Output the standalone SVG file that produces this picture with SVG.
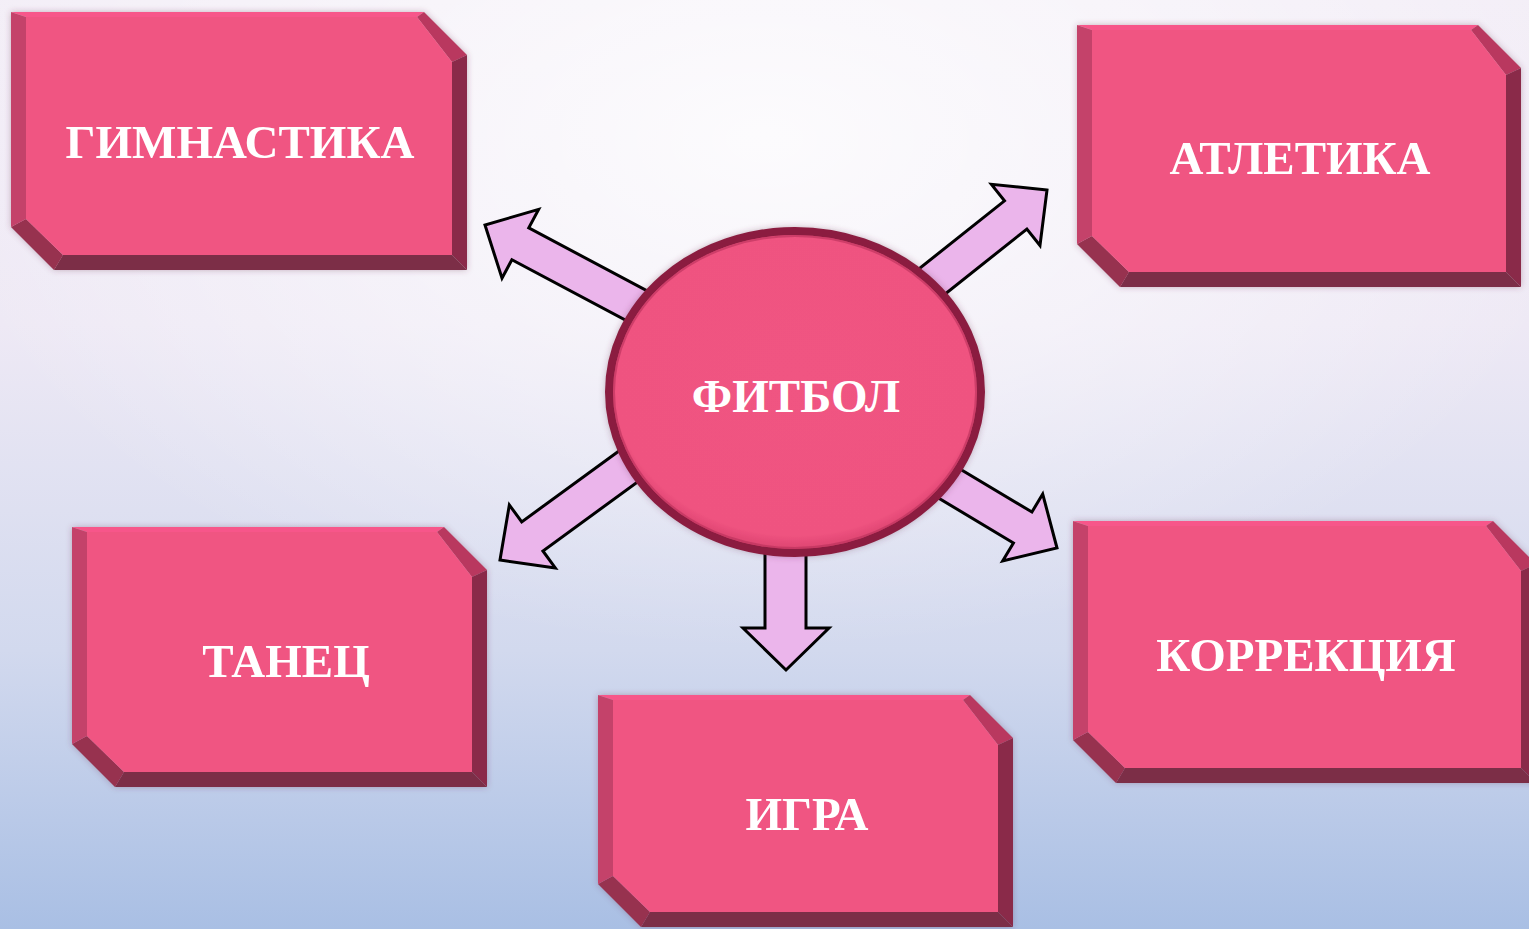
<svg xmlns="http://www.w3.org/2000/svg" width="1529" height="929" viewBox="0 0 1529 929">
<defs>
<linearGradient id="bg" x1="0" y1="0" x2="0" y2="1">
<stop offset="0" stop-color="#F3EEF7"/>
<stop offset="0.35" stop-color="#EEE9F5"/>
<stop offset="0.7" stop-color="#D2D9EE"/>
<stop offset="1" stop-color="#A9BFE4"/>
</linearGradient>
<radialGradient id="hl" cx="0.5" cy="0.15" r="0.55">
<stop offset="0" stop-color="#FFFFFF" stop-opacity="0.8"/>
<stop offset="1" stop-color="#FFFFFF" stop-opacity="0"/>
</radialGradient>
<radialGradient id="ballFill" cx="0.5" cy="0.45" r="0.55">
<stop offset="0" stop-color="#F05482"/>
<stop offset="0.9" stop-color="#EF5380"/>
<stop offset="1" stop-color="#D8406C"/>
</radialGradient>
<filter id="sh" x="-10%" y="-10%" width="120%" height="120%">
<feDropShadow dx="0" dy="0" stdDeviation="3" flood-color="#6A3050" flood-opacity="0.35"/>
</filter>
</defs>
<style>
.top{fill:#F7578A}
.tr{fill:#B9395F}
.rt{fill:#8A2A4A}
.bt{fill:#7B2E47}
.bl{fill:#97304F}
.lf{fill:#C4436B}
.face{fill:#F05482}
.lbl{font-family:"Liberation Serif","Times New Roman",serif;font-weight:bold;font-size:47px;fill:#FFFFFF;text-anchor:middle}
.arr{fill:#EBB5EB;stroke:#000000;stroke-width:3;stroke-linejoin:miter}
</style>
<rect x="0" y="0" width="1529" height="929" fill="url(#bg)"/>
<rect x="0" y="0" width="1529" height="929" fill="url(#hl)"/>

<g id="connectors">
<polygon class="arr" transform="translate(485,225) rotate(208)" points="0,0 -40,-39 -40,-18 -340,-18 -340,18 -40,18 -40,39"/>
<polygon class="arr" transform="translate(1047,190) rotate(-38.5)" points="0,0 -40,-39 -40,-18 -320,-18 -320,18 -40,18 -40,39"/>
<polygon class="arr" transform="translate(500,560) rotate(143.9)" points="0,0 -40,-39 -40,-18 -320,-18 -320,18 -40,18 -40,39"/>
<polygon class="arr" transform="translate(1057,548) rotate(30.9)" points="0,0 -40,-39 -40,-18 -300,-18 -300,18 -40,18 -40,39"/>
<polygon class="arr" points="786,670 743,628 765,628 765,500 806,500 806,628 829,628"/>
</g>

<g id="node-fitbol">
<ellipse cx="795" cy="392" rx="186" ry="161" fill="url(#ballFill)" stroke="#8B1D40" stroke-width="8" filter="url(#sh)"/>
<ellipse cx="795" cy="392" rx="181" ry="156" fill="none" stroke="#B8305A" stroke-width="2" opacity="0.6"/>
<text class="lbl" x="796" y="412">ФИТБОЛ</text>
</g>

<g id="node-gimnastika" filter="url(#sh)">
<polygon class="top" points="11,12 424,12 417,17 26,17"/>
<polygon class="tr" points="424,12 467,55 452,62 417,17"/>
<polygon class="rt" points="467,55 467,270 452,255 452,62"/>
<polygon class="bt" points="467,270 54,270 63,255 452,255"/>
<polygon class="bl" points="54,270 11,227 26,219 63,255"/>
<polygon class="lf" points="11,227 11,12 26,17 26,219"/>
<polygon class="face" points="26,17 417,17 452,62 452,255 63,255 26,219"/>
<text class="lbl" x="240" y="158">ГИМНАСТИКА</text>
</g>

<g id="node-atletika" filter="url(#sh)">
<polygon class="top" points="1077,25 1478,25 1471,30 1092,30"/>
<polygon class="tr" points="1478,25 1521,68 1506,75 1471,30"/>
<polygon class="rt" points="1521,68 1521,287 1506,272 1506,75"/>
<polygon class="bt" points="1521,287 1120,287 1129,272 1506,272"/>
<polygon class="bl" points="1120,287 1077,244 1092,236 1129,272"/>
<polygon class="lf" points="1077,244 1077,25 1092,30 1092,236"/>
<polygon class="face" points="1092,30 1471,30 1506,75 1506,272 1129,272 1092,236"/>
<text class="lbl" x="1300" y="174">АТЛЕТИКА</text>
</g>

<g id="node-tanec" filter="url(#sh)">
<polygon class="top" points="72,527 444,527 437,532 87,532"/>
<polygon class="tr" points="444,527 487,570 472,577 437,532"/>
<polygon class="rt" points="487,570 487,787 472,772 472,577"/>
<polygon class="bt" points="487,787 115,787 124,772 472,772"/>
<polygon class="bl" points="115,787 72,744 87,736 124,772"/>
<polygon class="lf" points="72,744 72,527 87,532 87,736"/>
<polygon class="face" points="87,532 437,532 472,577 472,772 124,772 87,736"/>
<text class="lbl" x="286" y="677">ТАНЕЦ</text>
</g>

<g id="node-igra" filter="url(#sh)">
<polygon class="top" points="598,695 970,695 963,700 613,700"/>
<polygon class="tr" points="970,695 1013,738 998,745 963,700"/>
<polygon class="rt" points="1013,738 1013,927 998,912 998,745"/>
<polygon class="bt" points="1013,927 641,927 650,912 998,912"/>
<polygon class="bl" points="641,927 598,884 613,876 650,912"/>
<polygon class="lf" points="598,884 598,695 613,700 613,876"/>
<polygon class="face" points="613,700 963,700 998,745 998,912 650,912 613,876"/>
<text class="lbl" x="807" y="830">ИГРА</text>
</g>

<g id="node-korrekciya" filter="url(#sh)">
<polygon class="top" points="1073,521 1493,521 1486,526 1088,526"/>
<polygon class="tr" points="1493,521 1536,564 1521,571 1486,526"/>
<polygon class="rt" points="1536,564 1536,783 1521,768 1521,571"/>
<polygon class="bt" points="1536,783 1116,783 1125,768 1521,768"/>
<polygon class="bl" points="1116,783 1073,740 1088,732 1125,768"/>
<polygon class="lf" points="1073,740 1073,521 1088,526 1088,732"/>
<polygon class="face" points="1088,526 1486,526 1521,571 1521,768 1125,768 1088,732"/>
<text class="lbl" x="1306" y="671">КОРРЕКЦИЯ</text>
</g>
</svg>
